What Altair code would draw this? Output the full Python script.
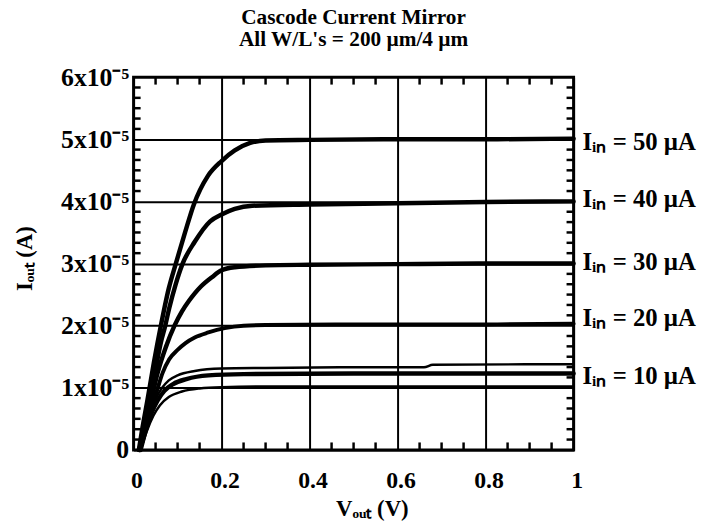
import altair as alt
import pandas as pd

# ---------------- data (V_out in volts, I_out in microamps) ----------------
V50 = [0.012, 0.02, 0.031, 0.046, 0.062, 0.08, 0.096, 0.117, 0.137, 0.169, 0.2, 0.23, 0.265, 0.3, 0.4, 0.6, 0.8, 1.0]
I50 = [0.0, 3.5, 7.8, 14.0, 20.0, 26.0, 30.0, 35.0, 39.5, 44.1, 46.5, 48.2, 49.4, 49.8, 49.9, 50.0, 50.0, 50.1]

V40 = [0.013, 0.024, 0.036, 0.05, 0.062, 0.072, 0.081, 0.095, 0.111, 0.139, 0.174, 0.2, 0.23, 0.27, 0.4, 0.6, 0.8, 1.0]
I40 = [0.0, 3.5, 8.0, 13.0, 17.3, 20.0, 22.8, 26.5, 29.9, 33.5, 36.8, 37.9, 38.8, 39.3, 39.5, 39.7, 39.9, 40.0]

V30 = [0.014, 0.026, 0.04, 0.055, 0.073, 0.093, 0.11, 0.126, 0.139, 0.153, 0.178, 0.2, 0.23, 0.3, 0.4, 0.6, 0.8, 1.0]
I30 = [0.0, 3.5, 8.0, 12.5, 16.5, 20.0, 22.3, 24.0, 25.2, 26.3, 27.8, 28.9, 29.4, 29.7, 29.8, 29.9, 30.0, 30.0]

V20 = [0.015, 0.028, 0.042, 0.055, 0.066, 0.081, 0.1, 0.118, 0.139, 0.17, 0.207, 0.25, 0.3, 0.5, 0.8, 1.0]
I20 = [0.0, 3.5, 7.0, 10.0, 12.4, 14.6, 16.1, 17.2, 18.1, 18.9, 19.6, 20.0, 20.1, 20.2, 20.2, 20.3]

V10A = [0.015, 0.025, 0.035, 0.05, 0.065, 0.08, 0.1, 0.139, 0.2, 0.3, 0.5, 0.66, 0.68, 1.0]
I10A = [0.0, 3.0, 5.5, 8.2, 10.0, 11.2, 12.0, 12.7, 13.1, 13.2, 13.3, 13.3, 13.7, 13.8]

V10B = [0.016, 0.027, 0.04, 0.055, 0.07, 0.09, 0.12, 0.17, 0.25, 0.5, 1.0]
I10B = [0.0, 3.0, 5.8, 8.0, 9.5, 10.6, 11.4, 12.0, 12.2, 12.3, 12.3]

V10C = [0.016, 0.03, 0.045, 0.06, 0.08, 0.11, 0.15, 0.2, 0.3, 0.6, 1.0]
I10C = [0.0, 3.0, 5.5, 7.2, 8.5, 9.4, 9.9, 10.1, 10.2, 10.2, 10.2]

CURVES = [("50", V50, I50, 4.5), ("40", V40, I40, 4.5), ("30", V30, I30, 4.5),
          ("20", V20, I20, 4.0), ("10a", V10A, I10A, 2.5), ("10b", V10B, I10B, 4.5),
          ("10c", V10C, I10C, 2.5)]

LABELS = ["Iᵢₙ = 50 µA", "Iᵢₙ = 40 µA", "Iᵢₙ = 30 µA", "Iᵢₙ = 20 µA", "Iᵢₙ = 10 µA"]
LABEL_I = [49.5, 40.3, 30.2, 21.2, 11.9]

X_TICKS = [0, 0.2, 0.4, 0.6, 0.8, 1.0]
Y_TICKS = [0, 10, 20, 30, 40, 50, 60]
X_MINOR = [0.05, 0.1, 0.15, 0.25, 0.3, 0.35, 0.45, 0.5, 0.55, 0.65, 0.7, 0.75, 0.85, 0.9, 0.95]
Y_MINOR = [round(k * 10 / 6, 3) for k in range(1, 36) if k % 6 != 0]

TITLE = ["Cascode Current Mirror", "All W/L's = 200 µm/4 µm"]
FONT = "Liberation Serif"

# ---------------- frames ----------------
rows = []
for name, vs, cs, w in CURVES:
    for k, (v, c) in enumerate(zip(vs, cs)):
        rows.append({"curve": name, "v": v, "i": c, "k": k, "w": w})
df = pd.DataFrame(rows)

lab = pd.DataFrame({"text": LABELS, "i": LABEL_I, "v": [1.0] * len(LABELS)})

# minor tick segments (inward pointing), in data units
tb = pd.DataFrame({"v": X_MINOR, "i": [0.0] * len(X_MINOR), "b": [1.2] * len(X_MINOR)})
tt = pd.DataFrame({"v": X_MINOR, "i": [60.0] * len(X_MINOR), "b": [58.8] * len(X_MINOR)})
tl = pd.DataFrame({"i": Y_MINOR, "v": [0.0] * len(Y_MINOR), "b": [0.016] * len(Y_MINOR)})
tr = pd.DataFrame({"i": Y_MINOR, "v": [1.0] * len(Y_MINOR), "b": [0.984] * len(Y_MINOR)})

xs = alt.Scale(domain=[0, 1], nice=False, zero=False)
ys = alt.Scale(domain=[0, 60], nice=False, zero=False)

x_axis = alt.Axis(values=X_TICKS, title="Vₒᵤₜ (V)",
                  labelExpr="datum.value == 0 ? '0' : datum.value == 1 ? '1' : format(datum.value, '.1f')",
                  labelPadding=31, labelBaseline="middle", labelOffset=3, labelFlush=False,
                  titleX=241, titleY=59, titleBaseline="middle", titleAlign="center")
y_axis = alt.Axis(values=Y_TICKS, title="Iₒᵤₜ (A)",
                  labelExpr="datum.value == 0 ? '0' : format(datum.value / 10, 'd') + 'x10⁻⁵'",
                  labelPadding=5, labelAlign="right", labelBaseline="middle", labelFontSize=26,
                  titleX=-110, titleY=183, titleBaseline="middle", titleAlign="center",
                  titleAngle=270)

X = alt.X("v:Q", scale=xs, axis=x_axis)
Y = alt.Y("i:Q", scale=ys, axis=y_axis)

lines = alt.Chart(df).mark_line(color="black", strokeCap="round", strokeJoin="round", interpolate="monotone").encode(
    x=X, y=Y,
    detail="curve:N",
    order="k:Q",
    strokeWidth=alt.StrokeWidth("w:Q", scale=None, legend=None),
)

tick_bottom = alt.Chart(tb).mark_rule(color="black", strokeWidth=2.5).encode(x=X, y=Y, y2="b:Q")
tick_top = alt.Chart(tt).mark_rule(color="black", strokeWidth=2.5).encode(x=X, y=Y, y2="b:Q")
tick_left = alt.Chart(tl).mark_rule(color="black", strokeWidth=2.5).encode(y=Y, x=X, x2="b:Q")
tick_right = alt.Chart(tr).mark_rule(color="black", strokeWidth=2.5).encode(y=Y, x=X, x2="b:Q")

labels = alt.Chart(lab).mark_text(align="left", baseline="middle", dx=9, font=FONT,
                                  fontSize=25, fontWeight="bold", color="black").encode(
    x=X, y=Y, text="text:N",
)

chart = alt.layer(lines, tick_bottom, tick_top, tick_left, tick_right, labels).properties(
    width=445, height=377,
    autosize=alt.AutoSizeParams(type="none"),
    padding={"left": 127, "top": 67, "right": 142, "bottom": 71},
    title=alt.Title(TITLE, font=FONT, fontSize=21.5, fontWeight="bold", color="black",
                    anchor="middle", offset=14, lineHeight=22),
).configure_view(
    stroke="black", strokeWidth=3
).configure_axis(
    grid=True, gridColor="black", gridWidth=2, gridOpacity=1,
    domain=False, ticks=False,
    labelFont=FONT, labelFontSize=24, labelFontWeight="bold", labelColor="black",
    titleFont=FONT, titleFontSize=23, titleFontWeight="bold", titleColor="black",
)

chart.save("out.html", embed_options={"renderer": "svg", "actions": False})
